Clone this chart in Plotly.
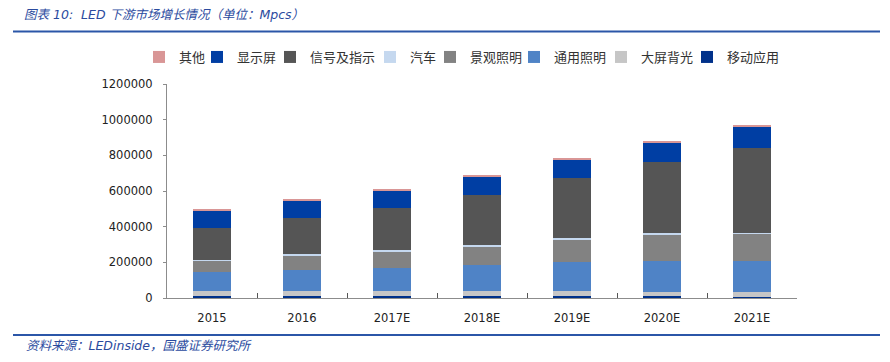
import plotly.graph_objects as go

years = ["2015", "2016", "2017E", "2018E", "2019E", "2020E", "2021E"]

mobile = [12000, 12000, 12000, 12000, 11000, 11000, 7000]          # 移动应用
backlight = [27000, 28000, 28000, 28000, 28000, 24000, 25000]      # 大屏背光
general = [105000, 119000, 126000, 144000, 164000, 172000, 174000] # 通用照明
landscape = [65000, 81000, 95000, 105000, 123000, 148000, 155000]  # 景观照明
auto = [5000, 6000, 6000, 7000, 8000, 7000, 6000]                  # 汽车
signal = [180000, 205000, 237000, 282000, 338000, 400000, 473000]  # 信号及指示
display = [99000, 95000, 101000, 103000, 107000, 112000, 122000]   # 显示屏
other = [5000, 8000, 7000, 6000, 6000, 7000, 7000]                 # 其他

series = [
    ("移动应用", mobile, "#00318a"),
    ("大屏背光", backlight, "#c6c6c6"),
    ("通用照明", general, "#4f83c6"),
    ("景观照明", landscape, "#828282"),
    ("汽车", auto, "#c5d8ef"),
    ("信号及指示", signal, "#555555"),
    ("显示屏", display, "#003ea3"),
    ("其他", other, "#d99696"),
]

# page has an 8px body margin: work in reference pixels, shift by OFF
OFF = 8
W, H = 890 - 2 * OFF, 362 - 2 * OFF
PL, PR, PT, PB = 167, 797, 84, 298          # plot area in reference pixels
ML, MR, MT, MB = PL - OFF, W - (PR - OFF), PT - OFF, H - (PB - OFF)
PW = PR - PL
PH = PB - PT

def px_x(x):
    return (x - PL) / PW

def px_y(y):
    return (PB - y) / PH

legend_order = ["其他", "显示屏", "信号及指示", "汽车", "景观照明", "通用照明", "大屏背光", "移动应用"]
legend_marker_px = [170, 228, 301, 401, 461, 545, 632, 718]

fig = go.Figure()
for name, vals, col in series:
    idx = legend_order.index(name)
    fig.add_trace(go.Bar(
        x=years, y=vals, name=name, legend=f"legend{idx + 2}",
        marker=dict(color=col, line=dict(width=0)),
        hoverinfo="skip",
    ))

legend_font = dict(family="Noto Sans CJK SC", size=13, color="#333333")
legends = {}
for i, m in enumerate(legend_marker_px):
    legends[f"legend{i + 2}"] = dict(
        x=px_x(m - 31), xanchor="left",
        y=px_y(57), yanchor="middle",
        orientation="h", bgcolor="rgba(0,0,0,0)", borderwidth=0,
        font=legend_font,
    )

title_col = "#2a4a9e"
fig.update_layout(
    width=W, height=H, autosize=False, showlegend=True,
    margin=dict(l=ML, r=MR, t=MT, b=MB, pad=0),
    paper_bgcolor="white", plot_bgcolor="white",
    barmode="stack", bargap=0.58,
    title=dict(
        text="<i>图表 10:  LED 下游市场增长情况（单位：Mpcs）</i>",
        x=(24 - OFF) / W, xref="container", xanchor="left",
        y=1 - (15 - OFF) / H, yref="container", yanchor="middle",
        font=dict(family="DejaVu Sans, Noto Sans CJK SC", size=12.5, color=title_col),
    ),
    xaxis=dict(
        showline=True, linecolor="#8c8c8c", linewidth=1,
        ticks="inside", tickson="boundaries", ticklen=5, tickcolor="#555555",
        showgrid=False, zeroline=False,
        tickfont=dict(family="DejaVu Sans", size=11.5, color="#222222"),
        ticklabelstandoff=9,
    ),
    yaxis=dict(
        range=[0, 1200000], dtick=200000, tickformat="d",
        showline=True, linecolor="#8c8c8c", linewidth=1,
        ticks="outside", ticklen=3, tickcolor="#8c8c8c",
        showgrid=False, zeroline=False,
        tickfont=dict(family="DejaVu Sans", size=11.5, color="#222222"),
        ticklabelstandoff=8,
    ),
    shapes=[
        dict(type="line", xref="paper", yref="paper",
             x0=px_x(13), x1=px_x(880), y0=px_y(31.5), y1=px_y(31.5),
             line=dict(color="#2b56a8", width=2)),
        dict(type="line", xref="paper", yref="paper",
             x0=px_x(13), x1=px_x(880), y0=px_y(335), y1=px_y(335),
             line=dict(color="#2b56a8", width=2)),
    ],
    annotations=[
        dict(text="<i>资料来源：LEDinside，国盛证券研究所</i>",
             xref="paper", yref="paper", x=px_x(24), y=px_y(345),
             xanchor="left", yanchor="middle", showarrow=False,
             font=dict(family="DejaVu Sans, Noto Sans CJK SC", size=12.5, color=title_col)),
    ],
    **legends,
)

fig.write_html("out.html")
